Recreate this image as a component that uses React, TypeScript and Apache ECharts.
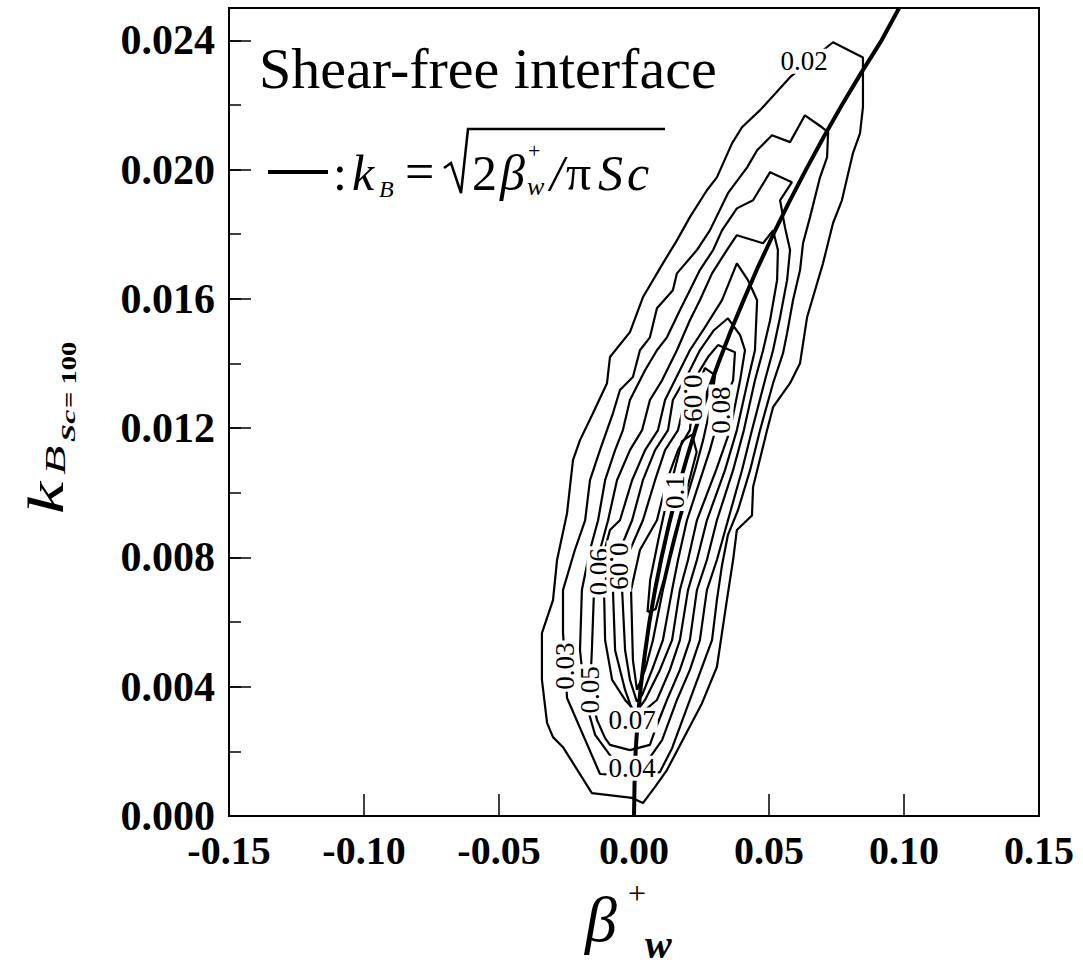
import React, { useEffect, useRef } from "react";
import * as echarts from "echarts";

// ---- data (beta_w^+ , k_B) ----
const xMin = -0.15, xMax = 0.15, xStep = 0.05;
const yMin = 0, yMax = 0.025, yStep = 0.004, yMinorStep = 0.002;

// contour lines, level 0.02 ... 0.1 (closed polylines)
const c02 = [[-0.0007,0.00056],[-0.0156,0.00071],[-0.0263,0.00213],[-0.0300,0.00244],[-0.0322,0.00288],[-0.0341,0.00421],[-0.0341,0.00566],[-0.0300,0.00668],[-0.0285,0.00792],[-0.0248,0.00937],[-0.0226,0.01101],[-0.0200,0.01163],[-0.0152,0.01246],[-0.0100,0.01339],[-0.0089,0.01420],[-0.0015,0.01497],[0.0033,0.01605],[0.0107,0.01710],[0.0159,0.01781],[0.0207,0.01853],[0.0270,0.01936],[0.0307,0.01976],[0.0363,0.02081],[0.0400,0.02131],[0.0467,0.02184],[0.0578,0.02286],[0.0737,0.02394],[0.0848,0.02347],[0.0848,0.02193],[0.0837,0.02112],[0.0811,0.02051],[0.0770,0.01905],[0.0737,0.01834],[0.0700,0.01710],[0.0641,0.01543],[0.0615,0.01401],[0.0578,0.01339],[0.0515,0.01265],[0.0493,0.01194],[0.0441,0.01018],[0.0437,0.00930],[0.0381,0.00885],[0.0367,0.00792],[0.0344,0.00668],[0.0307,0.00461],[0.0252,0.00349],[0.0122,0.00142],[0.0078,0.00090],[0.0033,0.00040]];
const c03 = [[-0.0007,0.00124],[-0.0126,0.00130],[-0.0248,0.00365],[-0.0263,0.00569],[-0.0263,0.00699],[-0.0219,0.00823],[-0.0181,0.00915],[-0.0163,0.01039],[-0.0126,0.01132],[-0.0100,0.01194],[-0.0078,0.01246],[-0.0052,0.01318],[-0.0004,0.01358],[0.0022,0.01441],[0.0059,0.01481],[0.0085,0.01571],[0.0144,0.01627],[0.0159,0.01679],[0.0233,0.01751],[0.0281,0.01812],[0.0348,0.01927],[0.0419,0.02007],[0.0456,0.02060],[0.0511,0.02106],[0.0578,0.02085],[0.0633,0.02168],[0.0696,0.02131],[0.0719,0.02116],[0.0715,0.02038],[0.0689,0.01976],[0.0652,0.01853],[0.0626,0.01772],[0.0615,0.01689],[0.0589,0.01596],[0.0567,0.01494],[0.0552,0.01432],[0.0515,0.01339],[0.0467,0.01194],[0.0430,0.01070],[0.0385,0.00946],[0.0348,0.00870],[0.0326,0.00776],[0.0307,0.00668],[0.0289,0.00544],[0.0207,0.00359],[0.0141,0.00210],[0.0096,0.00136]];
const c04 = [[-0.0007,0.00161],[-0.0081,0.00179],[-0.0144,0.00251],[-0.0181,0.00359],[-0.0200,0.00513],[-0.0193,0.00699],[-0.0163,0.00823],[-0.0133,0.00915],[-0.0107,0.01039],[-0.0070,0.01132],[-0.0041,0.01194],[-0.0015,0.01287],[0.0041,0.01379],[0.0085,0.01441],[0.0122,0.01481],[0.0170,0.01565],[0.0207,0.01627],[0.0244,0.01689],[0.0293,0.01751],[0.0326,0.01812],[0.0381,0.01880],[0.0441,0.01905],[0.0504,0.01992],[0.0585,0.01961],[0.0541,0.01905],[0.0559,0.01822],[0.0578,0.01751],[0.0567,0.01658],[0.0541,0.01543],[0.0515,0.01441],[0.0485,0.01348],[0.0437,0.01194],[0.0400,0.01070],[0.0348,0.00915],[0.0307,0.00792],[0.0270,0.00699],[0.0244,0.00544],[0.0207,0.00452],[0.0159,0.00359],[0.0104,0.00235],[0.0052,0.00173]];
const c05 = [[-0.0015,0.00204],[-0.0089,0.00220],[-0.0107,0.00241],[-0.0137,0.00297],[-0.0163,0.00390],[-0.0156,0.00513],[-0.0148,0.00699],[-0.0126,0.00823],[-0.0096,0.00915],[-0.0063,0.01039],[-0.0015,0.01132],[0.0030,0.01194],[0.0059,0.01287],[0.0104,0.01348],[0.0159,0.01441],[0.0207,0.01534],[0.0244,0.01596],[0.0289,0.01679],[0.0344,0.01751],[0.0381,0.01797],[0.0478,0.01772],[0.0515,0.01812],[0.0533,0.01751],[0.0530,0.01658],[0.0504,0.01534],[0.0478,0.01441],[0.0448,0.01348],[0.0407,0.01194],[0.0367,0.01070],[0.0307,0.00915],[0.0270,0.00792],[0.0233,0.00699],[0.0207,0.00544],[0.0170,0.00452],[0.0122,0.00359],[0.0078,0.00266],[0.0059,0.00220]];
const c06 = [[0.0007,0.00322],[-0.0033,0.00359],[-0.0081,0.00421],[-0.0107,0.00544],[-0.0111,0.00699],[-0.0119,0.00792],[-0.0089,0.00885],[-0.0052,0.00915],[-0.0007,0.01039],[0.0041,0.01132],[0.0089,0.01194],[0.0115,0.01287],[0.0170,0.01379],[0.0207,0.01441],[0.0256,0.01503],[0.0326,0.01596],[0.0381,0.01710],[0.0422,0.01658],[0.0456,0.01596],[0.0448,0.01441],[0.0422,0.01348],[0.0381,0.01194],[0.0337,0.01070],[0.0270,0.00915],[0.0233,0.00792],[0.0200,0.00699],[0.0170,0.00544],[0.0133,0.00452],[0.0085,0.00359],[0.0041,0.00328]];
const c07 = [[0.0000,0.00312],[-0.0033,0.00390],[-0.0070,0.00513],[-0.0078,0.00699],[-0.0052,0.00823],[-0.0007,0.00915],[0.0033,0.01039],[0.0078,0.01132],[0.0126,0.01194],[0.0144,0.01287],[0.0207,0.01379],[0.0244,0.01441],[0.0296,0.01503],[0.0348,0.01540],[0.0393,0.01488],[0.0411,0.01441],[0.0393,0.01348],[0.0356,0.01194],[0.0304,0.01070],[0.0233,0.00915],[0.0200,0.00792],[0.0170,0.00699],[0.0141,0.00544],[0.0096,0.00452],[0.0041,0.00359]];
const c08 = [[0.0011,0.00353],[-0.0015,0.00421],[-0.0033,0.00513],[-0.0044,0.00699],[-0.0015,0.00823],[0.0033,0.00915],[0.0078,0.01039],[0.0115,0.01132],[0.0163,0.01194],[0.0189,0.01287],[0.0244,0.01379],[0.0274,0.01420],[0.0311,0.01457],[0.0374,0.01435],[0.0367,0.01348],[0.0322,0.01256],[0.0281,0.01132],[0.0196,0.00915],[0.0163,0.00792],[0.0141,0.00699],[0.0107,0.00544],[0.0067,0.00452],[0.0030,0.00374]];
const c09 = [[0.0011,0.00390],[-0.0004,0.00482],[-0.0011,0.00699],[0.0022,0.00823],[0.0085,0.00915],[0.0122,0.01039],[0.0163,0.01132],[0.0207,0.01194],[0.0219,0.01287],[0.0244,0.01348],[0.0263,0.01386],[0.0300,0.01364],[0.0289,0.01287],[0.0256,0.01163],[0.0226,0.01070],[0.0170,0.00915],[0.0133,0.00792],[0.0107,0.00699],[0.0070,0.00544],[0.0041,0.00452]];
const c10 = [[0.0050,0.00631],[0.0060,0.00730],[0.0090,0.00854],[0.0122,0.00977],[0.0150,0.01070],[0.0178,0.01160],[0.0215,0.01180],[0.0232,0.01126],[0.0210,0.01055],[0.0185,0.00977],[0.0145,0.00854],[0.0110,0.00730],[0.0080,0.00640]];
const contours = [c02, c03, c04, c05, c06, c07, c08, c09, c10];

// thick curve k_B = sqrt(2 beta / (pi Sc))
const thickBeta = [0, 0.0002, 0.0006, 0.0014, 0.0025, 0.0040, 0.0057, 0.0078, 0.0102, 0.0129, 0.0159, 0.0193, 0.0229, 0.0269, 0.0312, 0.0358, 0.0408, 0.0460, 0.0516, 0.0575, 0.0637, 0.0702, 0.0770, 0.0842, 0.0917, 0.0982];
const thickK = [0, 0.001, 0.002, 0.003, 0.004, 0.005, 0.006, 0.007, 0.008, 0.009, 0.010, 0.011, 0.012, 0.013, 0.014, 0.015, 0.016, 0.017, 0.018, 0.019, 0.020, 0.021, 0.022, 0.023, 0.024, 0.025];

// contour labels
const labelTexts = ["0.02", "0.03", "0.04", "0.05", "0.06", "0.07", "0.08", "0.09", "0.09", "0.1"];
const labelBeta = [0.0630, -0.0256, -0.0007, -0.0163, -0.0130, -0.0007, 0.0322, 0.0219, -0.0056, 0.0152];
const labelK = [0.02335, 0.00464, 0.00148, 0.00390, 0.00755, 0.00297, 0.01256, 0.01293, 0.00773, 0.01002];
const labelRotate = [0, 90, 0, 90, 90, 0, 90, -90, -90, 90];

const SERIF = '"Liberation Serif", "Times New Roman", serif';

function txt(x: number, y: number, text: string, size: number, opts: any = {}) {
  return {
    type: "text",
    x,
    y,
    rotation: opts.rotation || 0,
    scaleX: opts.scaleX || 1,
    scaleY: opts.scaleY || 1,
    z: 100,
    style: {
      text,
      fontFamily: SERIF,
      fontSize: size,
      fontStyle: opts.italic ? "italic" : "normal",
      fontWeight: opts.bold ? "bold" : "normal",
      fill: "#000",
      align: "left",
      verticalAlign: "middle",
    },
  };
}

export default function App() {
  const ref = useRef<HTMLDivElement>(null);
  useEffect(() => {
    if (!ref.current) return;
    const chart = echarts.init(ref.current, null, { renderer: "svg" });
    const contourSeries = contours.map((pts) => ({
      type: "line",
      data: [...pts, pts[0]],
      showSymbol: false,
      symbol: "none",
      silent: true,
      z: 2,
      lineStyle: { color: "#000", width: 2.2 },
    }));
    const option: any = {
      animation: false,
      backgroundColor: "#fff",
      grid: { left: 229, top: 8, width: 810, height: 808, show: true, borderColor: "#000", borderWidth: 2, backgroundColor: "transparent" },
      xAxis: {
        type: "value",
        min: xMin,
        max: xMax,
        interval: xStep,
        axisLine: { show: true, onZero: false, lineStyle: { color: "#000", width: 2 } },
        axisTick: { show: true, inside: true, length: 22, lineStyle: { color: "#000", width: 1.5 } },
        splitLine: { show: false },
        axisLabel: {
          color: "#000",
          fontFamily: SERIF,
          fontWeight: "bold",
          fontSize: 40,
          margin: 14,
          formatter: (v: number) => (Math.abs(v) < 1e-9 ? "0.00" : v.toFixed(2)),
        },
      },
      yAxis: [
        {
          type: "value",
          min: yMin,
          max: yMax,
          interval: yStep,
          axisLine: { show: true, onZero: false, lineStyle: { color: "#000", width: 2 } },
          axisTick: { show: true, inside: true, length: 22, lineStyle: { color: "#000", width: 1.5 } },
          splitLine: { show: false },
          axisLabel: {
            color: "#000",
            fontFamily: SERIF,
            fontWeight: "bold",
            fontSize: 42,
            margin: 14,
            showMaxLabel: false,
            formatter: (v: number) => v.toFixed(3),
          },
        },
        {
          type: "value",
          min: yMin,
          max: yMax,
          interval: yMinorStep,
          position: "left",
          axisLine: { show: false, onZero: false },
          axisTick: { show: true, inside: true, length: 12, lineStyle: { color: "#000", width: 1.5 } },
          splitLine: { show: false },
          axisLabel: { show: false },
        },
      ],
      series: [
        ...contourSeries,
        {
          type: "line",
          data: thickBeta.map((b, i) => [b, thickK[i]]),
          showSymbol: false,
          symbol: "none",
          silent: true,
          z: 3,
          lineStyle: { color: "#000", width: 4 },
        },
        {
          type: "scatter",
          z: 10,
          silent: true,
          symbolSize: 0.1,
          itemStyle: { color: "#fff", opacity: 1 },
          data: labelTexts.map((t, i) => ({
            name: t,
            value: [labelBeta[i], labelK[i]],
            label: { rotate: labelRotate[i] },
          })),
          label: {
            show: true,
            position: "inside",
            formatter: "{b}",
            color: "#000",
            opacity: 1,
            textBorderWidth: 0,
            textBorderColor: "transparent",
            fontFamily: SERIF,
            fontSize: 27,
            lineHeight: 21,
            backgroundColor: "#fff",
            padding: [2, 2],
          },
        },
      ],
      graphic: [
        txt(259, 68, "Shear-free interface", 58),
        { type: "line", z: 100, shape: { x1: 268, y1: 172, x2: 328, y2: 172 }, style: { stroke: "#000", lineWidth: 4 } },
        txt(333, 173, ":", 50),
        txt(352, 173, "k", 50, { italic: true }),
        txt(379, 189, "B", 24, { italic: true }),
        txt(405, 171, "=", 52),
        { type: "polyline", z: 100, shape: { points: [[444, 168], [451, 163], [461, 193], [468, 129], [665, 129]] }, style: { stroke: "#000", lineWidth: 2.5, fill: null } },
        txt(472, 173, "2", 50),
        txt(500, 173, "β", 50, { italic: true }),
        txt(528, 150, "+", 22),
        txt(527, 186, "w", 26, { italic: true }),
        txt(550, 173, "/", 50, { italic: true }),
        txt(566, 173, "π", 50),
        txt(598, 173, "S", 50, { italic: true }),
        txt(627, 173, "c", 50, { italic: true }),
        // y axis name (rotated, stretched along the text like the reference)
        txt(46, 514, "k", 50, { italic: true, rotation: Math.PI / 2, scaleX: 1.45 }),
        txt(55, 475, "B", 30, { italic: true, rotation: Math.PI / 2, scaleX: 1.6 }),
        txt(69, 442, "Sc", 18, { italic: true, bold: true, rotation: Math.PI / 2, scaleX: 1.8 }),
        txt(69, 408, "= 100", 22, { bold: true, rotation: Math.PI / 2, scaleX: 1.3 }),
        // x axis name
        txt(585, 919, "β", 64, { italic: true }),
        txt(628, 893, "+", 32),
        txt(645, 944, "w", 40, { italic: true, bold: true }),
      ],
    };
    chart.setOption(option);
    return () => chart.dispose();
  }, []);
  return <div ref={ref} style={{ position: "absolute", left: 0, top: 0, width: 1083, height: 967 }} />;
}
